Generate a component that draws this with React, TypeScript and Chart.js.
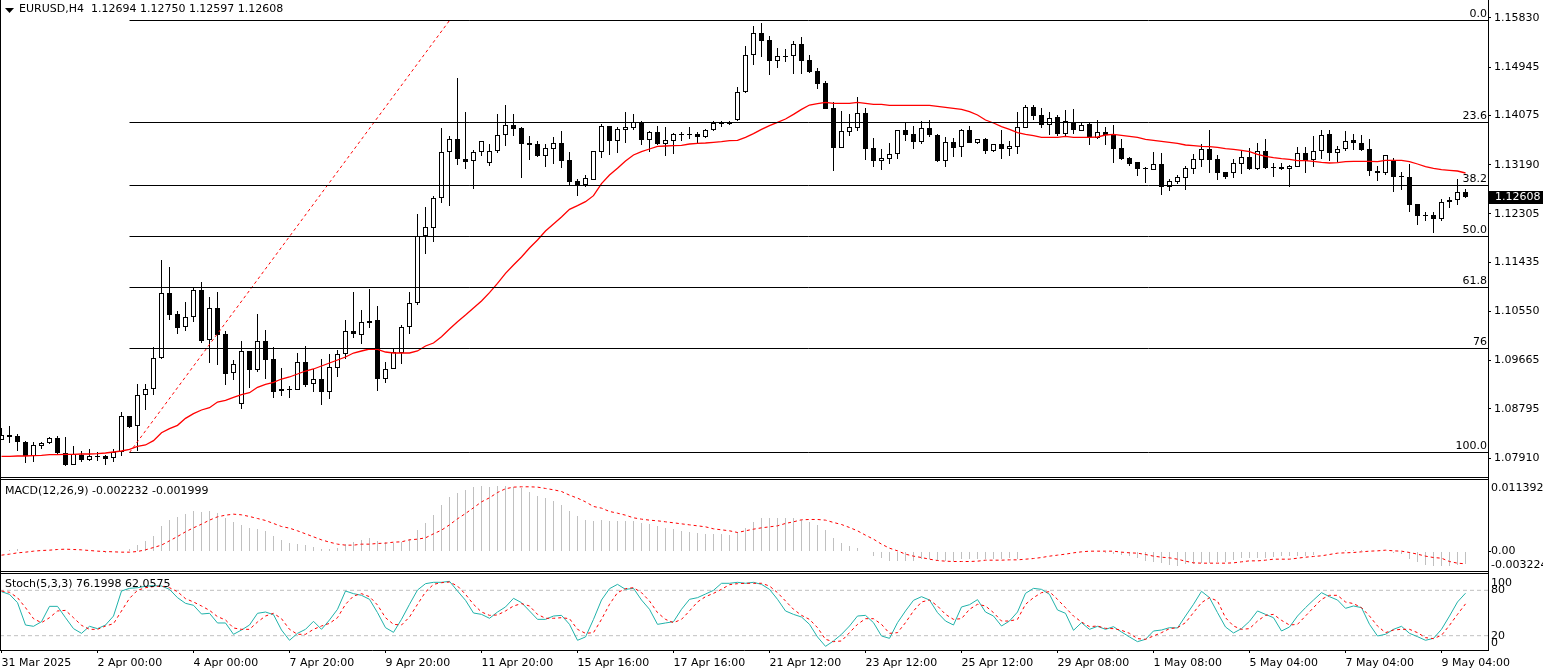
import React, { useEffect, useRef } from "react";
import { Chart, registerables } from "chart.js";

Chart.register(...registerables);

const opens = [
  1.08228,1.08318,1.08300,1.08192,1.07940,1.08132,1.08174,1.08264,1.07994,1.07790,
  1.07964,1.07880,1.07946,1.07946,1.07904,1.08012,1.08660,1.08492,1.09038,1.09146,
  1.09704,1.10874,1.10496,1.10262,1.10442,1.10928,1.10028,1.10604,1.10136,1.09434,
  1.08876,1.09830,1.09488,1.10010,1.09692,1.09110,1.09140,1.09140,1.09632,1.09236,
  1.09326,1.09104,1.09524,1.09776,1.10190,1.10130,1.10376,1.10388,1.09338,1.09506,
  1.09806,1.10262,1.10694,1.11900,1.12044,1.12584,1.13412,1.13646,1.13286,1.13250,
  1.13412,1.13214,1.13430,1.13718,1.13898,1.13844,1.13574,1.13556,1.13352,1.13466,
  1.13574,1.13268,1.12890,1.12818,1.12920,1.13424,1.13880,1.13622,1.13820,1.13856,
  1.13952,1.13640,1.13772,1.13568,1.13622,1.13742,1.13742,1.13736,1.13694,1.13808,
  1.13940,1.13940,1.13988,1.14492,1.15158,1.15554,1.15428,1.15062,1.15140,1.15140,
  1.15356,1.15068,1.14870,1.14654,1.14204,1.13496,1.13784,1.13856,1.14114,1.13484,
  1.13262,1.13298,1.13388,1.13808,1.13736,1.13598,1.13844,1.13718,1.13262,1.13592,
  1.13502,1.13808,1.13586,1.13646,1.13442,1.13562,1.13478,1.13514,1.13856,1.14222,
  1.14078,1.13910,1.14042,1.13748,1.13952,1.13802,1.13916,1.13676,1.13772,1.13724,
  1.13484,1.13304,1.13232,1.13124,1.13100,1.13196,1.12788,1.12884,1.12956,1.13118,
  1.13280,1.13466,1.13286,1.13052,1.13034,1.13208,1.13322,1.13112,1.13430,1.13148,
  1.13148,1.13118,1.13142,1.13394,1.13280,1.13430,1.13736,1.13394,1.13466,1.13628,
  1.13574,1.13466,1.13070,1.13034,1.13268,1.12980,1.12962,1.12476,1.12278,1.12278,
  1.12218,1.12512,1.12548,1.12694,
];
const highs = [
  1.08444,1.08486,1.08342,1.08210,1.08198,1.08204,1.08294,1.08306,1.08288,1.08126,
  1.08036,1.08066,1.08018,1.07970,1.08066,1.08732,1.08666,1.09242,1.09242,1.09908,
  1.11474,1.11348,1.10556,1.10718,1.10964,1.11072,1.10808,1.10898,1.10190,1.09668,
  1.10016,1.09830,1.10502,1.10214,1.09908,1.09524,1.09200,1.09794,1.09926,1.09512,
  1.09686,1.09776,1.09848,1.10388,1.10892,1.10574,1.10946,1.10640,1.09632,1.09866,
  1.10298,1.10892,1.12302,1.12428,1.12620,1.13850,1.13706,1.14744,1.14138,1.13454,
  1.13610,1.13562,1.14102,1.14264,1.14102,1.13874,1.13706,1.13616,1.13568,1.13688,
  1.13796,1.13418,1.12932,1.13004,1.13430,1.13916,1.13880,1.13862,1.14138,1.14102,
  1.13976,1.13790,1.13880,1.13862,1.13760,1.13772,1.13862,1.13778,1.13832,1.13976,
  1.13976,1.13976,1.14582,1.15320,1.15686,1.15734,1.15506,1.15290,1.15272,1.15416,
  1.15488,1.15158,1.14930,1.14696,1.14312,1.14156,1.14102,1.14408,1.14210,1.13670,
  1.13472,1.13580,1.13808,1.13952,1.13886,1.13976,1.13994,1.13742,1.13688,1.13670,
  1.13826,1.13886,1.13646,1.13670,1.13562,1.13814,1.13616,1.14132,1.14264,1.14264,
  1.14204,1.14138,1.14084,1.14174,1.14192,1.13940,1.13934,1.13994,1.13868,1.13904,
  1.13652,1.13322,1.13238,1.13142,1.13418,1.13400,1.12932,1.13004,1.13166,1.13382,
  1.13562,1.13814,1.13364,1.13058,1.13292,1.13454,1.13484,1.13574,1.13646,1.13214,
  1.13214,1.13178,1.13502,1.13502,1.13700,1.13814,1.13808,1.13520,1.13790,1.13736,
  1.13718,1.13646,1.13160,1.13370,1.13304,1.13058,1.13196,1.12488,1.12332,1.12332,
  1.12578,1.12602,1.12926,1.12750,
];
const lows = [
  1.08228,1.08186,1.08042,1.07826,1.07844,1.08078,1.08156,1.07988,1.07772,1.07778,
  1.07838,1.07862,1.07856,1.07784,1.07838,1.07952,1.08450,1.08042,1.08774,1.09044,
  1.09698,1.10394,1.10142,1.10196,1.10358,1.09980,1.09620,1.09584,1.09224,1.09314,
  1.08792,1.09164,1.09458,1.09332,1.08990,1.09026,1.08990,1.09134,1.09194,1.09098,
  1.08870,1.08972,1.09368,1.09698,1.10070,1.09962,1.10250,1.09122,1.09266,1.09506,
  1.09602,1.10142,1.10670,1.11582,1.11798,1.12500,1.12446,1.13190,1.13118,1.12758,
  1.13346,1.13166,1.13400,1.13526,1.13706,1.12950,1.13274,1.13334,1.13148,1.13202,
  1.13130,1.12818,1.12626,1.12788,1.12920,1.13310,1.13364,1.13400,1.13580,1.13814,
  1.13544,1.13418,1.13544,1.13346,1.13382,1.13616,1.13652,1.13574,1.13676,1.13790,
  1.13868,1.13904,1.13970,1.14486,1.14984,1.15128,1.14804,1.14930,1.15038,1.14822,
  1.14822,1.14840,1.14552,1.14198,1.13076,1.13490,1.13706,1.13796,1.13274,1.13148,
  1.13094,1.13202,1.13292,1.13616,1.13472,1.13562,1.13688,1.13238,1.13148,1.13328,
  1.13328,1.13580,1.13562,1.13382,1.13418,1.13292,1.13346,1.13382,1.13850,1.13994,
  1.13850,1.13724,1.13706,1.13706,1.13742,1.13796,1.13544,1.13652,1.13544,1.13220,
  1.13274,1.13166,1.12986,1.12860,1.13094,1.12644,1.12716,1.12842,1.12734,1.13022,
  1.13148,1.13040,1.12914,1.12932,1.12950,1.13022,1.13094,1.13094,1.13112,1.12974,
  1.13094,1.12794,1.13142,1.13040,1.13142,1.13292,1.13250,1.13232,1.13430,1.13448,
  1.13430,1.12986,1.12902,1.12998,1.12698,1.12734,1.12344,1.12110,1.12182,1.11960,
  1.12182,1.12410,1.12470,1.12597,
];
const closes = [
  1.08318,1.08294,1.08192,1.07946,1.08138,1.08174,1.08264,1.08006,1.07790,1.07982,
  1.07880,1.07940,1.07934,1.07898,1.08012,1.08660,1.08474,1.09038,1.09146,1.09704,
  1.10874,1.10490,1.10256,1.10442,1.10928,1.10022,1.10604,1.10130,1.09428,1.09596,
  1.09830,1.09488,1.10010,1.09680,1.09104,1.09146,1.09152,1.09632,1.09230,1.09326,
  1.09104,1.09542,1.09776,1.10190,1.10148,1.10352,1.10346,1.09338,1.09506,1.09812,
  1.10262,1.10694,1.11900,1.12062,1.12584,1.13412,1.13646,1.13286,1.13244,1.13412,
  1.13610,1.13430,1.13718,1.13898,1.13838,1.13568,1.13550,1.13346,1.13484,1.13574,
  1.13262,1.12884,1.12824,1.12944,1.13430,1.13880,1.13622,1.13826,1.13862,1.13952,
  1.13634,1.13772,1.13562,1.13628,1.13736,1.13730,1.13730,1.13688,1.13808,1.13934,
  1.13928,1.13922,1.14492,1.15158,1.15554,1.15422,1.15062,1.15140,1.15128,1.15356,
  1.15062,1.14858,1.14648,1.14198,1.13496,1.13790,1.13862,1.14114,1.13472,1.13262,
  1.13304,1.13376,1.13808,1.13730,1.13598,1.13844,1.13724,1.13256,1.13592,1.13490,
  1.13808,1.13580,1.13646,1.13436,1.13556,1.13478,1.13526,1.13862,1.14222,1.14066,
  1.13904,1.14036,1.13742,1.13970,1.13814,1.13898,1.13688,1.13772,1.13724,1.13472,
  1.13292,1.13202,1.13118,1.13106,1.13196,1.12794,1.12890,1.12962,1.13124,1.13286,
  1.13466,1.13280,1.13046,1.12974,1.13214,1.13322,1.13112,1.13430,1.13124,1.13136,
  1.13112,1.13160,1.13394,1.13262,1.13430,1.13718,1.13394,1.13466,1.13622,1.13574,
  1.13460,1.13070,1.13034,1.13358,1.12974,1.12962,1.12470,1.12260,1.12260,1.12218,
  1.12512,1.12548,1.12692,1.12608,
];
const movingAverage = [
  1.07940,1.07940,1.07946,1.07946,1.07952,1.07958,1.07970,1.07970,1.07976,1.07976,
  1.07982,1.07982,1.07988,1.08000,1.08018,1.08036,1.08066,1.08120,1.08144,1.08222,
  1.08366,1.08438,1.08498,1.08624,1.08708,1.08774,1.08816,1.08918,1.08948,1.09002,
  1.09050,1.09086,1.09182,1.09236,1.09272,1.09332,1.09368,1.09422,1.09476,1.09512,
  1.09566,1.09620,1.09674,1.09728,1.09800,1.09836,1.09872,1.09866,1.09818,1.09800,
  1.09800,1.09800,1.09836,1.09926,1.09980,1.10094,1.10232,1.10364,1.10484,1.10610,
  1.10736,1.10886,1.11054,1.11234,1.11384,1.11528,1.11690,1.11834,1.11996,1.12122,
  1.12248,1.12386,1.12452,1.12524,1.12632,1.12848,1.13004,1.13124,1.13256,1.13364,
  1.13424,1.13472,1.13520,1.13526,1.13532,1.13538,1.13562,1.13574,1.13580,1.13592,
  1.13604,1.13622,1.13628,1.13682,1.13748,1.13826,1.13892,1.13952,1.14012,1.14096,
  1.14186,1.14264,1.14288,1.14312,1.14294,1.14294,1.14294,1.14312,1.14294,1.14276,
  1.14276,1.14258,1.14258,1.14258,1.14258,1.14258,1.14258,1.14240,1.14222,1.14204,
  1.14186,1.14144,1.14084,1.13994,1.13940,1.13874,1.13826,1.13766,1.13736,1.13712,
  1.13682,1.13682,1.13682,1.13700,1.13682,1.13682,1.13682,1.13688,1.13724,1.13736,
  1.13718,1.13700,1.13682,1.13646,1.13628,1.13610,1.13592,1.13574,1.13544,1.13532,
  1.13520,1.13514,1.13502,1.13478,1.13466,1.13448,1.13424,1.13376,1.13340,1.13316,
  1.13298,1.13286,1.13262,1.13262,1.13250,1.13232,1.13220,1.13226,1.13244,1.13250,
  1.13250,1.13250,1.13244,1.13268,1.13268,1.13268,1.13244,1.13202,1.13154,1.13124,
  1.13100,1.13088,1.13076,1.13040,
];
const macdHistogram = [
  .00012,.0003,.00048,.00018,.00012,.00006,.00012,.00018,0,.00006,
  -.00012,-.00018,-.00018,-.0003,-.00018,-.00006,.00042,.00115,.00193,.00283,
  .00464,.00573,.00621,.00687,.00724,.00718,.00736,.00693,.00597,.00537,
  .00476,.00416,.00404,.00374,.00283,.00211,.00157,.00139,.00109,.00084,
  .00042,.00042,.00066,.00127,.00163,.00211,.00247,.00193,.00163,.00151,
  .00175,.00229,.00392,.00519,.00663,.00844,.00989,.01061,.01116,.01158,
  .01188,.0117,.01188,.01188,.01164,.0114,.01079,.01007,.00959,.00917,
  .00844,.00736,.00645,.00573,.00555,.00573,.00555,.00555,.00555,.00555,
  .00519,.005,.00464,.00428,.0041,.00374,.00356,.00338,.0032,.0032,
  .0032,.00302,.00356,.00428,.00537,.00597,.00609,.00609,.00609,.00609,
  .00573,.00537,.00482,.00392,.00247,.00157,.00103,.00066,.00006,-.00078,
  -.00121,-.00169,-.00169,-.00169,-.00169,-.00139,-.00139,-.00169,-.00169,-.00169,
  -.00139,-.00139,-.00139,-.00139,-.00139,-.00139,-.00109,-.00139,.00018,.00012,
  0,.00012,.00006,.00006,.00006,0,-.00006,-.00012,-.00024,-.00042,
  -.0006,-.0009,-.00121,-.00169,-.00181,-.00211,-.00241,-.00259,-.00229,-.00223,
  -.00211,-.00211,-.00193,-.00181,-.00151,-.00121,-.00109,-.00109,-.00109,-.00096,
  -.0009,-.0009,-.0009,-.00078,-.0006,-.00018,0,.00018,.00024,.00024,
  .0003,.00012,0,0,-.0003,-.00048,-.00133,-.00181,-.00241,-.00271,
  -.00271,-.00271,-.00253,-.00223,
];
const macdSignal = [
  -.00066,-.00048,-.00024,-.00012,.00006,.00018,.00024,.00036,.00042,.00036,
  .0003,.00018,.00006,0,-.00006,-.00012,-.00012,0,.0003,.00072,
  .00115,.00193,.00271,.00356,.00428,.00494,.00567,.00627,.00657,.00675,
  .00663,.00633,.00597,.00561,.00507,.00452,.00422,.00374,.0032,.00265,
  .00211,.00169,.00133,.00115,.00115,.00133,.00133,.00145,.00151,.00169,
  .00175,.00211,.00223,.00247,.0032,.00386,.00482,.00591,.00687,.0079,
  .00898,.00971,.01067,.01134,.01164,.0117,.0117,.01164,.0114,.01116,
  .01085,.01019,.00965,.00898,.00814,.00784,.00724,.00693,.00657,.00609,
  .00585,.00567,.00555,.00537,.00519,.005,.00482,.00464,.00446,.0041,
  .00392,.00374,.00344,.00374,.00404,.00428,.00446,.00464,.00507,.00537,
  .00573,.00579,.00579,.00567,.00525,.00488,.00434,.00374,.00295,.00223,
  .00133,.0006,.00012,-.00048,-.00084,-.00109,-.00139,-.00163,-.00175,-.00181,
  -.00181,-.00181,-.00175,-.00157,-.00157,-.00157,-.00151,-.00151,-.00139,-.00127,
  -.00109,-.00084,-.00066,-.00048,-.00024,-.00006,.00006,.00006,.00006,.00006,
  -.00012,-.00024,-.0003,-.00054,-.00084,-.00103,-.00115,-.00139,-.00175,-.00205,
  -.00211,-.00211,-.00211,-.00211,-.00205,-.00187,-.00169,-.00169,-.00157,-.00139,
  -.00139,-.00139,-.00121,-.00103,-.0009,-.00078,-.00054,-.0003,-.00024,-.00018,
  -.00006,.00006,.00012,.00024,.00012,.00006,-.00018,-.00048,-.00084,-.00109,
  -.00121,-.00181,-.00211,-.00223,
];
const stochMain = [
  78.2,74.7,63.7,34.1,32.4,38.5,58.8,58.8,43.8,29.3,
  23.1,32.4,29.3,34.1,46.0,79.1,82.6,83.5,85.3,86.2,
  85.7,81.3,70.3,62.8,60.2,48.7,49.6,36.8,36.8,21.8,
  27.5,34.1,49.6,51.3,47.8,27.5,13.9,23.1,28.4,39.0,
  28.4,40.8,54.9,79.1,75.6,73.4,68.1,50.5,30.6,24.4,
  41.6,61.5,80.4,88.8,90.6,90.6,91.9,79.1,66.8,50.0,
  48.2,43.0,51.3,58.0,69.4,63.7,52.7,41.6,41.6,46.0,
  46.9,35.0,13.9,18.3,41.6,67.2,82.2,87.9,81.3,82.6,
  67.2,54.9,35.0,36.8,38.5,54.9,68.1,70.3,75.1,80.0,
  89.3,89.3,90.6,89.3,90.6,87.9,81.3,68.1,52.7,48.2,
  44.7,35.0,18.3,5.9,13.0,21.8,32.8,46.0,46.9,37.2,
  19.6,16.5,37.2,52.7,66.8,71.6,67.2,50.5,39.4,34.1,
  58.0,61.0,67.7,51.3,46.0,32.8,39.4,51.3,76.0,82.6,
  81.3,74.7,54.0,49.6,27.1,37.2,28.4,32.4,28.4,31.9,
  24.9,18.3,12.1,15.2,26.2,27.5,30.6,30.2,46.0,61.5,
  78.7,70.3,50.5,31.5,23.6,29.3,39.0,52.7,48.2,43.8,
  26.2,31.5,46.0,57.1,67.2,76.9,71.6,67.2,56.2,59.3,
  57.1,35.0,19.6,21.8,28.4,32.4,23.1,18.7,13.9,16.5,
  28.4,46.0,64.6,76.2,
];
const stochSignal = [
  79.1,77.4,70.3,57.1,42.5,37.2,43.8,52.7,53.5,43.8,
  33.7,28.4,28.4,32.8,35.9,52.7,69.4,80.0,83.5,84.9,
  85.7,83.5,78.2,69.0,64.6,59.3,53.5,45.2,40.8,30.2,
  28.4,28.4,38.1,46.0,49.6,42.5,28.4,21.8,21.8,28.4,
  32.8,36.3,43.8,61.5,72.5,75.6,71.6,60.6,43.8,35.0,
  34.1,44.7,61.5,77.8,87.9,90.1,91.0,85.7,74.7,61.5,
  51.3,46.9,47.4,52.7,59.3,62.4,59.3,48.2,43.0,43.0,
  43.8,42.5,28.4,23.1,24.0,41.6,61.5,76.9,82.2,83.5,
  76.9,65.9,50.5,41.6,37.2,41.6,52.7,64.6,71.6,76.0,
  81.3,87.5,88.8,89.3,89.3,89.3,85.7,76.9,65.9,54.9,
  46.9,41.6,30.6,15.2,12.1,13.0,24.0,35.0,42.5,42.5,
  35.0,23.1,24.0,37.2,52.7,64.6,67.2,59.3,48.2,41.6,
  42.5,54.9,61.5,59.3,50.5,39.4,39.4,41.6,61.5,70.3,
  76.9,78.2,68.1,57.1,46.0,38.1,31.9,32.8,29.7,29.3,
  27.1,23.1,16.1,15.2,19.6,24.0,29.3,30.6,37.2,50.5,
  63.7,70.3,65.9,43.8,32.8,28.4,29.3,39.4,46.9,48.2,
  40.3,34.1,35.0,46.0,57.1,68.1,73.4,73.4,64.6,62.4,
  57.1,46.0,32.8,24.0,27.5,28.4,28.4,24.0,17.4,16.1,
  20.5,33.7,48.2,62.06,
];

const priceTicks = [1.1583, 1.14945, 1.14075, 1.1319, 1.12305, 1.11435, 1.1055, 1.09665, 1.08795, 1.0791];
const fibLabels = ["0.0", "23.6", "38.2", "50.0", "61.8", "76", "100.0"];
const fibLevels = [1.15785, 1.13949, 1.12815, 1.11897, 1.10979, 1.09881, 1.08009];
const fibStartBar = 16;
const fibTrendBars = [16, 56];
const macdTickSpots = [0.011392, 0, -0.00239];
const macdTickLabels = ["0.011392", "0.00", "-0.003224"];
const stochTickSpots = [90, 80, 20, 10];
const stochTickLabels = ["100", "80", "20", "0"];
const stochLevels = [80, 20];
const timeTickBars = [0, 12, 24, 36, 48, 60, 72, 84, 96, 108, 120, 132, 144, 156, 168, 180];
const timeLabels = [
  "31 Mar 2025", "2 Apr 00:00", "4 Apr 00:00", "7 Apr 20:00", "9 Apr 20:00", "11 Apr 20:00",
  "15 Apr 16:00", "17 Apr 16:00", "21 Apr 12:00", "23 Apr 12:00", "25 Apr 12:00", "29 Apr 08:00",
  "1 May 08:00", "5 May 04:00", "7 May 04:00", "9 May 04:00",
];
const lastPrice = 1.12608;

const FONT = '11px "DejaVu Sans"';
const XMIN = -0.1875;
const XMAX = 185.8125;
const AXIS_W = 55;
const NO_TICK = "rgba(0,0,0,0)";

const series = (values: number[]) => values.map((y, x) => ({ x, y }));

// snap bars to whole pixels, MT4 has no antialiasing on candles
const snapBars = {
  id: "snapBars",
  afterDatasetsUpdate(chart) {
    chart.getSortedVisibleDatasetMetas().forEach((meta) => {
      if (meta.type !== "bar") return;
      meta.data.forEach((el) => {
        el.y = Math.round(el.y);
        el.base = Math.round(el.base);
      });
    });
  },
};

const paneText = (text: string, x: number, y: number) => ({
  id: "paneText",
  afterDatasetsDraw(chart) {
    const ctx = chart.ctx;
    ctx.save();
    ctx.font = FONT;
    ctx.fillStyle = "#000";
    ctx.textBaseline = "middle";
    ctx.textAlign = "left";
    ctx.fillText(text, x, y);
    ctx.restore();
  },
});

const mainExtras = {
  id: "mainExtras",
  afterDraw(chart) {
    const ctx = chart.ctx;
    const y = chart.scales.y;
    ctx.save();
    ctx.font = FONT;
    ctx.textBaseline = "middle";
    // fibo level captions
    ctx.fillStyle = "#000";
    ctx.textAlign = "right";
    fibLevels.forEach((lvl, i) => {
      ctx.fillText(fibLabels[i], 1487, y.getPixelForValue(lvl) - 6);
    });
    // header triangle
    ctx.beginPath();
    ctx.moveTo(5, 8);
    ctx.lineTo(14, 8);
    ctx.lineTo(9.5, 13);
    ctx.closePath();
    ctx.fill();
    // price tag
    const py = Math.round(y.getPixelForValue(lastPrice));
    ctx.fillRect(1489, py - 6, 54, 13);
    ctx.fillStyle = "#fff";
    ctx.textAlign = "left";
    ctx.fillText(lastPrice.toFixed(5), 1495, py + 0.5);
    ctx.restore();
  },
};

const yScale = (
  min: number,
  max: number,
  spots: number[],
  labels: (v: number, i: number) => string,
  padding: number,
  tickColor: string | string[],
) => ({
  position: "right",
  min,
  max,
  afterBuildTicks: (s) => {
    s.ticks = spots.map((value) => ({ value }));
  },
  afterFit: (s) => {
    s.width = AXIS_W;
    s.paddingTop = 0;
    s.paddingBottom = 0;
  },
  grid: { drawOnChartArea: false, color: "#000", tickColor, tickLength: 3 },
  border: { color: "#000" },
  ticks: { autoSkip: false, padding, color: "#000", font: { family: "DejaVu Sans", size: 11 }, callback: labels },
});

// bar charts default to offset: true, that would push the bars off the 8px grid
const hiddenX = { type: "linear", display: false, offset: false, min: XMIN, max: XMAX };

const baseOptions = (scales) => ({
  responsive: false,
  animation: false as const,
  events: [],
  layout: { padding: 0 },
  plugins: { legend: { display: false }, tooltip: { enabled: false } },
  scales,
});

export default function App() {
  const mainRef = useRef<HTMLCanvasElement>(null);
  const macdRef = useRef<HTMLCanvasElement>(null);
  const stochRef = useRef<HTMLCanvasElement>(null);

  useEffect(() => {
    const fibDatasets = fibLevels.map((lvl) => ({
      type: "line",
      data: [{ x: fibStartBar, y: lvl }, { x: XMAX, y: lvl }],
      borderColor: "#000",
      borderWidth: 1,
      pointRadius: 0,
      order: -1,
    }));

    const main = new Chart(mainRef.current as HTMLCanvasElement, {
      type: "bar",
      data: {
        datasets: [
          ...fibDatasets,
          {
            type: "line",
            data: [
              { x: fibTrendBars[0], y: fibLevels[6] },
              { x: fibTrendBars[1], y: fibLevels[0] },
            ],
            borderColor: "#ff0000",
            borderWidth: 1,
            borderDash: [3, 3],
            pointRadius: 0,
            order: -1,
          },
          {
            type: "line",
            data: series(movingAverage),
            borderColor: "#ff0000",
            borderWidth: 1.3,
            pointRadius: 0,
            order: 0,
          },
          {
            data: opens.map((o, x) => ({ x, y: [o, closes[x]] })),
            backgroundColor: opens.map((o, i) => (closes[i] >= o ? "#fff" : "#000")),
            borderColor: "#000",
            borderWidth: 1,
            borderSkipped: false,
            barThickness: 5,
            grouped: false,
            inflateAmount: 0,
            order: 1,
          },
          {
            data: highs.map((h, x) => ({ x, y: [lows[x], h] })),
            backgroundColor: "#000",
            borderWidth: 0,
            barThickness: 1,
            grouped: false,
            inflateAmount: 0,
            order: 2,
          },
        ],
      },
      options: baseOptions({
        x: hiddenX,
        y: yScale(1.07568, 1.16154, priceTicks, (v) => Number(v).toFixed(5), 3, "#000"),
      }),
      plugins: [snapBars, paneText("EURUSD,H4  1.12694 1.12750 1.12597 1.12608", 19, 9.5), mainExtras],
    });

    const macd = new Chart(macdRef.current as HTMLCanvasElement, {
      type: "bar",
      data: {
        datasets: [
          {
            type: "line",
            data: series(macdSignal),
            borderColor: "#ff0000",
            borderWidth: 1,
            borderDash: [3, 3],
            pointRadius: 0,
            order: 0,
          },
          {
            data: series(macdHistogram),
            backgroundColor: "#c0c0c0",
            borderWidth: 0,
            barThickness: 1,
            grouped: false,
            inflateAmount: 0,
            order: 1,
          },
        ],
      },
      options: baseOptions({
        x: hiddenX,
        y: yScale(-0.003526, 0.012929, macdTickSpots, (v, i) => macdTickLabels[i], 0, [NO_TICK, "#000", NO_TICK]),
      }),
      plugins: [snapBars, paneText("MACD(12,26,9) -0.002232 -0.001999", 5, 11)],
    });

    const stoch = new Chart(stochRef.current as HTMLCanvasElement, {
      type: "line",
      data: {
        datasets: [
          {
            data: series(stochMain),
            borderColor: "#20b2aa",
            borderWidth: 1,
            pointRadius: 0,
            order: 1,
          },
          {
            data: series(stochSignal),
            borderColor: "#ff0000",
            borderWidth: 1,
            borderDash: [3, 3],
            pointRadius: 0,
            order: 0,
          },
          ...stochLevels.map((lvl) => ({
            data: [{ x: XMIN, y: lvl }, { x: XMAX, y: lvl }],
            borderColor: "#c0c0c0",
            borderWidth: 1,
            borderDash: [4, 3],
            pointRadius: 0,
            order: 2,
          })),
        ],
      },
      options: baseOptions({
        x: {
          type: "linear",
          min: XMIN,
          max: XMAX,
          afterBuildTicks: (s) => {
            s.ticks = timeTickBars.map((value) => ({ value }));
          },
          afterFit: (s) => {
            s.height = 22;
            s.paddingLeft = 0;
            s.paddingRight = 0;
          },
          grid: { drawOnChartArea: false, color: "#000", tickLength: 3 },
          border: { color: "#000" },
          ticks: {
            autoSkip: false,
            maxRotation: 0,
            align: "start",
            padding: 4,
            color: "#000",
            font: { family: "DejaVu Sans", size: 11 },
            callback: (v, i) => timeLabels[i],
          },
        },
        y: yScale(1.06, 101.6, stochTickSpots, (v, i) => stochTickLabels[i], 0, NO_TICK),
      }),
      plugins: [paneText("Stoch(5,3,3) 76.1998 62.0575", 5, 10.5)],
    });

    return () => {
      main.destroy();
      macd.destroy();
      stoch.destroy();
    };
  }, []);

  const rule = (top: number): React.CSSProperties => ({
    position: "absolute",
    left: 0,
    top,
    width: 1489,
    height: 1,
    background: "#000",
  });
  const canvasAt = (top: number): React.CSSProperties => ({ position: "absolute", left: 0, top });

  return (
    <div style={{ position: "absolute", left: 0, top: 0, width: 1543, height: 672, background: "#fff", overflow: "hidden" }}>
      <canvas ref={mainRef} width={1543} height={477} style={canvasAt(0)} />
      <canvas ref={macdRef} width={1543} height={91} style={canvasAt(480)} />
      <canvas ref={stochRef} width={1543} height={98} style={canvasAt(574)} />
      <div style={rule(477)} />
      <div style={rule(479)} />
      <div style={rule(571)} />
      <div style={rule(573)} />
      <div style={{ position: "absolute", left: 0, top: 0, width: 1, height: 651, background: "#000" }} />
      <div style={{ position: "absolute", left: 1488, top: 0, width: 1, height: 651, background: "#000" }} />
    </div>
  );
}
